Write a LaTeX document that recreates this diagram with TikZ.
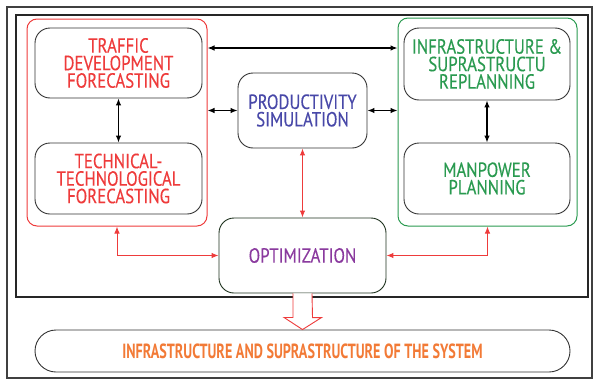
\documentclass[tikz,border=0pt]{standalone}
\usepackage{fontspec}
\setmainfont{PT Sans}[FakeStretch=0.82, FakeBold=0.3]
\newfontfamily\bfcond{PT Sans}[FakeStretch=0.69]
\usetikzlibrary{arrows.meta}
\definecolor{tred}{HTML}{EE3B3B}
\definecolor{tgreen}{HTML}{2A9A50}
\definecolor{tblue}{HTML}{4848A8}
\definecolor{tpurple}{HTML}{8A3A9E}
\definecolor{torange}{HTML}{F27A36}
\definecolor{optborder}{HTML}{1C301C}
\tikzset{
  box/.style={draw=black!80, line width=0.9pt, rounded corners=15pt, align=center,
    inner sep=0pt, font=\fontsize{20.5}{17.5}\selectfont},
  grp/.style={line width=1pt, rounded corners=10pt, inner sep=0pt},
  blk/.style={line width=1.2pt, black, {Latex[length=7pt,width=5.5pt]}-{Latex[length=7pt,width=5.5pt]}},
  rdarr/.style={line width=1pt, tred, {Latex[length=7pt,width=5.5pt]}-{Latex[length=7pt,width=5.5pt]}},
}
\begin{document}
\begin{tikzpicture}[x=1pt,y=-1pt]
\useasboundingbox (0,0) rectangle (593,380);
% frames
\draw[black!75, line width=1.3pt] (7,7) rectangle (592,378);
\draw[black!85, line width=1.1pt] (16,15) rectangle (588,297);
% groups
\node[grp, draw=tred, minimum width=180pt, minimum height=207pt] (redg) at (117,122.5) {};
\node[grp, draw=tgreen, minimum width=179pt, minimum height=208pt] (greeng) at (487.5,122) {};
% boxes
\node[box, text=tred, minimum width=167pt, minimum height=70pt] (traffic) at (118.5,63) {TRAFFIC\\DEVELOPMENT\\FORECASTING};
\node[box, text=tred, minimum width=167pt, minimum height=71pt] (tech) at (118.5,178.5) {TECHNICAL-\\TECHNOLOGICAL\\FORECASTING};
\node[box, text=tblue, minimum width=129pt, minimum height=75pt] (prod) at (302.5,110.5) {PRODUCTIVITY\\SIMULATION};
\node[box, text=tgreen, minimum width=166pt, minimum height=72pt] (infra) at (487,64) {INFRASTRUCTURE \&\\SUPRASTRUCTU\\REPLANNING};
\node[box, text=tgreen, minimum width=166pt, minimum height=71pt] (man) at (487,178.5) {MANPOWER\\PLANNING};
\node[box, draw=optborder, text=tpurple, minimum width=167pt, minimum height=75pt] (opt) at (302.5,255.5) {OPTIMIZATION};
\node[box, rounded corners=21pt, text=torange, font=\fontsize{20.5}{18}\bfcond\bfseries, minimum width=535pt, minimum height=42pt] (sys) at (302.5,351) {INFRASTRUCTURE AND SUPRASTRUCTURE OF THE SYSTEM};
% black connectors
\coordinate (ytop) at (0,48);
\draw[blk] (redg.east |- ytop) -- (greeng.west |- ytop);
\draw[blk] (redg.east |- prod.west) -- (prod.west);
\draw[blk] (prod.east) -- (greeng.west |- prod.east);
\draw[blk] (traffic.south) -- (tech.north);
\draw[blk] (infra.south) -- (man.north);
% red connectors
\draw[rdarr] (prod.south) -- (opt.north);
\draw[rdarr] (redg.south) |- (opt.west);
\draw[rdarr] (greeng.south) |- (opt.east);
% hollow arrow
\draw[tred, line width=0.9pt, fill=white] ([xshift=-9.5pt]opt.south) -- ++(0,24) -- ++(-9,0) -- (sys.north) -- ++(19,-12) -- ++(-9,0) -- ([xshift=9.5pt]opt.south);
\end{tikzpicture}
\end{document}
